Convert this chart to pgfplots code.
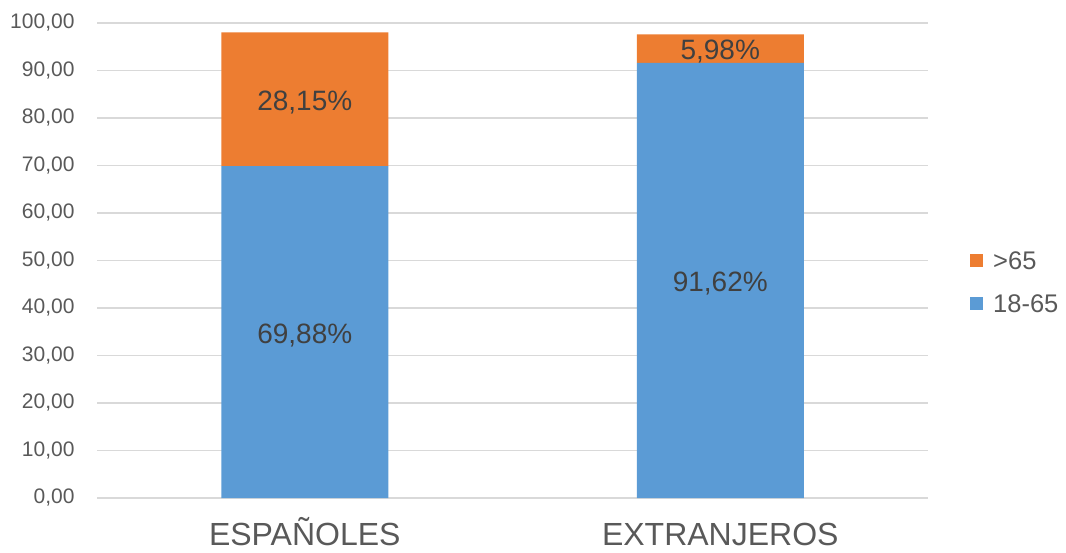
\documentclass[border=0pt]{standalone}
\usepackage{fontspec}
\setmainfont{Liberation Sans}
\usepackage{pgfplots}
\pgfplotsset{compat=1.18}
\definecolor{barblue}{HTML}{5B9BD5}
\definecolor{barorange}{HTML}{ED7D31}
\definecolor{gridgray}{HTML}{D9D9D9}
\definecolor{ticktext}{HTML}{595959}
\definecolor{labeltext}{HTML}{404040}

\begin{document}
\begin{tikzpicture}[x=1pt,y=1pt]
\useasboundingbox (0,0) rectangle (1066,552);
\begin{axis}[
  at={(97pt,54pt)}, anchor=south west,
  scale only axis, width=831pt, height=475pt,
  ybar stacked, bar width=167pt,
  xmin=-0.5, xmax=1.5, ymin=0, ymax=100,
  xtick={0,1}, xticklabels={ESPAÑOLES, EXTRANJEROS},
  ytick={0,10,...,100},
  ymajorgrids, grid style={gridgray, line width=1.2pt},
  axis line style={draw=none},
  major tick length=0pt,
  yticklabel style={font=\fontsize{21}{25}\selectfont, text=ticktext, xshift=-19pt},
  xticklabel style={font=\fontsize{32}{38}\selectfont, text=ticktext, anchor=base, yshift=-47pt},
  /pgf/number format/.cd, fixed, fixed zerofill, precision=2, use comma, assume math mode=true,
  /pgfplots/.cd,
  point meta=rawy,
  nodes near coords={\pgfmathprintnumber{\pgfplotspointmeta}\%},
  % stacked segments: labels sit in the middle of each segment
  every node near coord/.append style={anchor=center, yshift=-3pt,
    font=\fontsize{28}{33}\selectfont, text=labeltext},
  reverse legend,
  legend cell align=left,
  legend image code/.code={\fill[#1] (0pt,-5.5pt) rectangle (13pt,7.5pt);},
  legend style={draw=none, fill=none, at={(1.0505,0.4526)}, anchor=west,
    font=\fontsize{25.5}{30}\selectfont, text=ticktext, row sep=20pt,
    column sep=8pt, inner sep=0pt},
]
\addplot[fill=barblue, draw=none] coordinates {(0,69.88) (1,91.62)};
\addlegendentry{18-65}
\addplot[fill=barorange, draw=none] coordinates {(0,28.15) (1,5.98)};
\addlegendentry{>65}
\end{axis}
\end{tikzpicture}
\end{document}
